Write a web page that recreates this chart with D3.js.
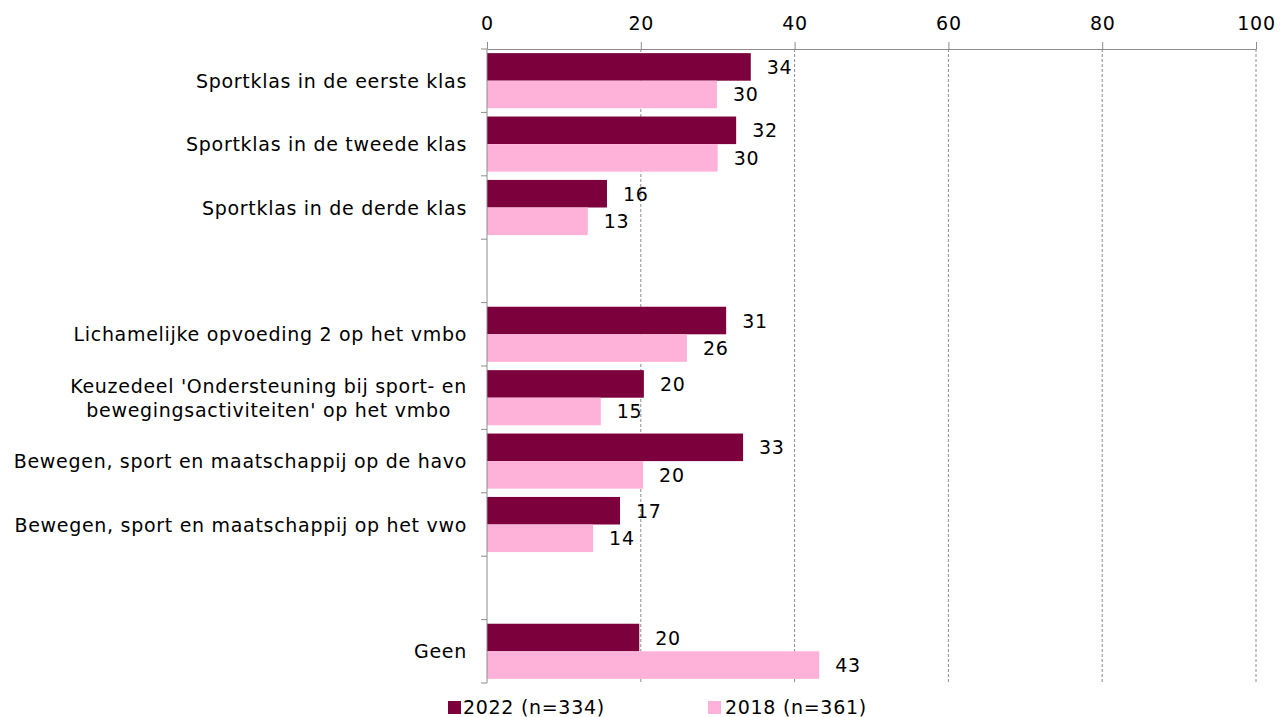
<!DOCTYPE html>
<html>
<head>
<meta charset="utf-8">
<script src="https://cdn.jsdelivr.net/npm/d3@7"></script>
<style>
  body { margin: 0; background: #fff; }
  text { font-family: "DejaVu Sans", sans-serif; fill: #000; letter-spacing: 0.7px; }
  .axis path, .axis line { stroke: #8c8c8c; }
  .grid line { stroke: #8c8c8c; stroke-dasharray: 3,2; }
</style>
</head>
<body>
<div id="chart"></div>
<script>
// categories, "" = empty spacer rows
const categories = [
  "Sportklas in de eerste klas",
  "Sportklas in de tweede klas",
  "Sportklas in de derde klas",
  "",
  "Lichamelijke opvoeding 2 op het vmbo",
  "Keuzedeel 'Ondersteuning bij sport- en\nbewegingsactiviteiten' op het vmbo",
  "Bewegen, sport en maatschappij op de havo",
  "Bewegen, sport en maatschappij op het vwo",
  " ",
  "Geen"
];
const series = ["2022 (n=334)", "2018 (n=361)"];
const values2022 = [34.3, 32.4, 15.6, null, 31.1, 20.4, 33.3, 17.3, null, 19.8];
const values2018 = [29.9, 30.0, 13.1, null, 26.0, 14.8, 20.3, 13.8, null, 43.2];
const xTicks = [0, 20, 40, 60, 80, 100];
const colors = ["#7b003c", "#ffb2d9"];

const widthSvg = 1288, heightSvg = 717;
const margin = {top: 49, right: 32, bottom: 34, left: 487};
const width = widthSvg - margin.left - margin.right;
const height = heightSvg - margin.top - margin.bottom;
const fs = "19px";

const svg = d3.select("#chart").append("svg")
  .attr("width", widthSvg).attr("height", heightSvg);
const g = svg.append("g").attr("transform", "translate(" + margin.left + "," + margin.top + ")");

const x = d3.scaleLinear().domain([0, 100]).range([0, width]);
const y = d3.scaleBand().domain(categories).range([0, height]).padding(0);
const ySub = d3.scaleBand().domain([0, 1]).range([0, y.bandwidth()]).paddingInner(0).paddingOuter(0.15);

// dashed grid
g.append("g").attr("class", "grid")
  .selectAll("line").data(xTicks.slice(1)).enter().append("line")
  .attr("x1", d => x(d)).attr("x2", d => x(d))
  .attr("y1", 0).attr("y2", height);

const rows = categories.map((c, i) => ({cat: c, vals: [values2022[i], values2018[i]]}));

const grp = g.selectAll(".row").data(rows).enter().append("g")
  .attr("transform", d => "translate(0," + y(d.cat) + ")");

const bars = grp.selectAll("g.bar").data(d => d.vals.map((v, j) => ({v, j})).filter(e => e.v != null))
  .enter().append("g").attr("class", "bar");

bars.append("rect")
  .attr("x", 0)
  .attr("y", d => ySub(d.j))
  .attr("width", d => x(d.v))
  .attr("height", ySub.bandwidth())
  .attr("fill", d => colors[d.j]);

bars.append("text")
  .attr("x", d => x(d.v) + 16)
  .attr("y", d => ySub(d.j) + ySub.bandwidth() / 2)
  .attr("dominant-baseline", "central")
  .style("font-size", fs)
  .text(d => d3.format(".0f")(d.v));

// top axis
g.append("g").attr("class", "axis")
  .call(d3.axisTop(x).tickValues(xTicks).tickSize(7).tickSizeOuter(0).tickPadding(12))
  .call(a => a.selectAll("text").style("font-size", fs).style("font-family", "DejaVu Sans"));

// left axis: ticks at band boundaries
const yl = g.append("g").attr("class", "axis");
yl.append("line").attr("x1", 0).attr("x2", 0).attr("y1", 0).attr("y2", height);
yl.selectAll("line.tk").data(d3.range(categories.length + 1)).enter().append("line")
  .attr("class", "tk")
  .attr("x1", -6).attr("x2", 0)
  .attr("y1", i => i * y.step()).attr("y2", i => i * y.step());

// category labels
const labels = g.append("g").selectAll("text").data(categories.filter(c => c.trim() !== "")).enter()
  .append("text")
  .style("font-size", fs)
  .attr("text-anchor", "middle");

labels.each(function(c) {
  const t = d3.select(this);
  const lines = c.split("\n");
  lines.forEach((l, k) => t.append("tspan").text(l));
  const ws = [];
  t.selectAll("tspan").each(function() { ws.push(this.getComputedTextLength()); });
  const cx = -20 - d3.max(ws) / 2;
  const cy = y(c) + y.bandwidth() / 2;
  const lh = 24;
  t.selectAll("tspan")
    .attr("x", cx)
    .attr("y", (d, k) => cy + (k - (lines.length - 1) / 2) * lh)
    .attr("dominant-baseline", "central");
});

// legend
const legend = svg.append("g").attr("transform", "translate(448,707)");
const lx = [0, 260];
series.forEach((s, i) => {
  const lg = legend.append("g").attr("transform", "translate(" + lx[i] + ",0)");
  lg.append("rect").attr("x", 0).attr("y", -6).attr("width", 13).attr("height", 13).attr("fill", colors[i]);
  lg.append("text").attr("x", 15 + i * 2).attr("y", 0).attr("dominant-baseline", "central")
    .style("font-size", fs).text(s);
});
</script>
</body>
</html>
